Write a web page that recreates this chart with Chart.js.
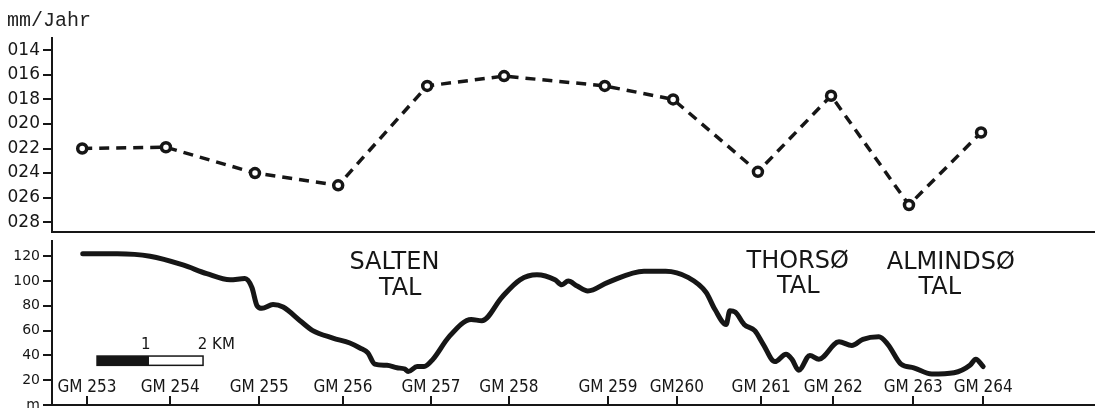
<!DOCTYPE html>
<html>
<head>
<meta charset="utf-8">
<script src="https://cdn.jsdelivr.net/npm/chart.js@4.4.1/dist/chart.umd.min.js"></script>
<style>
  body { margin: 0; background: #fff; overflow: hidden; }
  #wrap { position: relative; width: 1095px; height: 408px; }
  canvas { position: absolute; left: 0; }
</style>
</head>
<body>
<div id="wrap">
  <canvas id="rateChart" width="1095" height="252" style="top:0"></canvas>
  <canvas id="profileChart" width="1095" height="190" style="top:230px"></canvas>
</div>
<script>
// stations along the section, km from the left axis
const stationKm = [0.57, 2.15, 3.83, 5.40, 7.08, 8.53, 10.43, 11.72, 13.32, 14.70, 16.17, 17.53];
const rateMm = [22.0, 21.9, 24.0, 25.0, 16.9, 16.1, 16.9, 18.0, 23.9, 17.7, 26.6, 20.7];

const gmKm = [0.66, 2.23, 3.91, 5.49, 7.15, 8.62, 10.49, 11.79, 13.38, 14.74, 16.25, 17.57];
const gmLabels = ["GM 253", "GM 254", "GM 255", "GM 256", "GM 257", "GM 258",
                  "GM 259", "GM260", "GM 261", "GM 262", "GM 263", "GM 264"];

// terrain profile (m)
const profileKm = [0.58, 1.23, 1.85, 2.47, 2.92, 3.36, 3.64, 3.77, 3.87, 3.96, 4.17, 4.36,
                   4.68, 4.92, 5.30, 5.62, 5.81, 5.96, 6.09, 6.32, 6.51, 6.66, 6.72, 6.89,
                   7.02, 7.19, 7.49, 7.91, 8.11, 8.49, 8.83, 9.15, 9.49, 9.62, 9.74, 9.91,
                   10.11, 10.49, 11.17, 11.58, 12.00, 12.34, 12.51, 12.72, 12.79, 12.89, 13.06, 13.26,
                   13.42, 13.64, 13.85, 13.96, 14.09, 14.30, 14.47, 14.85, 15.09, 15.30, 15.60, 15.77,
                   16.02, 16.26, 16.60, 17.02, 17.32, 17.43, 17.57];
const profileM = [122, 122, 120, 113, 106, 101, 102, 95, 80, 78, 81, 79,
                  68, 60, 54, 50, 46, 42, 33, 32, 30, 29, 27, 31,
                  31, 37, 55, 69, 68, 87, 101, 105, 101, 97, 100, 96,
                  92, 99, 108, 108, 103, 91, 77, 65, 76, 75, 65, 60,
                  49, 35, 41, 37, 28, 40, 37, 51, 48, 53, 55, 49,
                  33, 30, 25, 26, 32, 37, 31];

const rateTicks = [14, 16, 18, 20, 22, 24, 26, 28];
const heightTicks = [0, 20, 40, 60, 80, 100, 120];

const ink = "#161616";
const xMax = 19.68;

function setTicks(list) {
    return s => { s.ticks = list.map(v => ({ value: v })); };
}

const yAxisBase = {
    afterFit: s => { s.width = 45; },
    grid: { drawOnChartArea: false, drawTicks: true, tickLength: 9, color: ink, lineWidth: 2 },
    border: { display: true, color: ink, width: 2 }
};

new Chart(document.getElementById("rateChart"), {
    type: "line",
    data: {
        datasets: [{
            data: stationKm.map((x, i) => ({ x: x, y: rateMm[i] })),
            borderColor: ink,
            borderWidth: 3.5,
            borderDash: [10, 7],
            tension: 0,
            pointRadius: 4.5,
            pointBorderWidth: 3.5,
            pointBorderColor: ink,
            pointBackgroundColor: "#fff"
        }]
    },
    options: {
        responsive: false,
        animation: false,
        layout: { autoPadding: false, padding: { left: 7, right: 0, top: 0, bottom: 12 } },
        plugins: {
            legend: { display: false },
            tooltip: { enabled: false },
            title: {
                display: true,
                text: "mm/Jahr",
                align: "start",
                color: "#222",
                font: { family: "'Liberation Mono', monospace", size: 20, weight: "normal", lineHeight: 1.2 },
                padding: { top: 9, bottom: 5 }
            }
        },
        scales: {
            x: {
                type: "linear", min: 0, max: xMax,
                ticks: { display: false },
                grid: { display: false },
                border: { display: true, color: ink, width: 2 }
            },
            y: Object.assign({}, yAxisBase, {
                reverse: true, min: 13, max: 28.8,
                afterBuildTicks: setTicks(rateTicks),
                ticks: {
                    padding: 3, color: ink,
                    font: { family: "'DejaVu Sans'", size: 17 },
                    callback: v => String(v).padStart(3, "0")
                }
            })
        }
    }
});

const profileNotes = {
    id: "profileNotes",
    afterDatasetsDraw(chart) {
        const ctx = chart.ctx, x = chart.scales.x, y = chart.scales.y;
        ctx.save();
        ctx.fillStyle = ink;
        ctx.textAlign = "center";
        ctx.textBaseline = "middle";
        ctx.font = "24px 'DejaVu Sans'";
        [["SALTEN", 6.46, 114.4], ["TAL", 6.57, 94],
         ["THORSØ", 14.07, 115.6], ["TAL", 14.08, 95.2],
         ["ALMINDSØ", 16.96, 114.4], ["TAL", 16.75, 94.4]].forEach(t => {
            ctx.fillText(t[0], x.getPixelForValue(t[1]), y.getPixelForValue(t[2]));
        });

        // 2 km scale bar
        const x0 = x.getPixelForValue(0.85), x1 = x.getPixelForValue(1.83), x2 = x.getPixelForValue(2.85);
        const yT = y.getPixelForValue(39.5), yB = y.getPixelForValue(32);
        ctx.fillRect(x0, yT, x1 - x0, yB - yT);
        ctx.strokeStyle = ink;
        ctx.lineWidth = 1.5;
        ctx.strokeRect(x0, yT, x2 - x0, yB - yT);
        ctx.font = "15px 'DejaVu Sans'";
        ctx.fillText("1", x.getPixelForValue(1.77), y.getPixelForValue(48));
        ctx.textAlign = "left";
        ctx.fillText("2 KM", x.getPixelForValue(2.75), y.getPixelForValue(48));
        ctx.restore();
    }
};

new Chart(document.getElementById("profileChart"), {
    type: "line",
    data: {
        datasets: [{
            data: profileKm.map((x, i) => ({ x: x, y: profileM[i] })),
            borderColor: ink,
            borderWidth: 5,
            pointRadius: 0,
            cubicInterpolationMode: "monotone",
            borderCapStyle: "round",
            borderJoinStyle: "round"
        }]
    },
    options: {
        responsive: false,
        animation: false,
        layout: { autoPadding: false, padding: { left: 7, right: 0, top: 10, bottom: 12 } },
        plugins: { legend: { display: false }, tooltip: { enabled: false } },
        scales: {
            x: {
                type: "linear", min: 0, max: xMax,
                afterBuildTicks: setTicks(gmKm),
                afterFit: s => { s.height = 3; },
                grid: { drawOnChartArea: false, drawTicks: true, tickLength: -9, color: ink, lineWidth: 2 },
                border: { display: true, color: ink, width: 2 },
                ticks: {
                    mirror: true, padding: 7, autoSkip: false, maxRotation: 0, color: ink,
                    font: { family: "'DejaVu Sans Condensed', 'DejaVu Sans'", size: 17 },
                    callback: (v, i) => gmLabels[i]
                }
            },
            y: Object.assign({}, yAxisBase, {
                min: 0, max: 132,
                afterBuildTicks: setTicks(heightTicks),
                ticks: {
                    padding: 3, color: ink,
                    font: { family: "'DejaVu Sans'", size: 14 },
                    callback: v => v === 0 ? "m" : v
                }
            })
        }
    },
    plugins: [profileNotes]
});
</script>
</body>
</html>
